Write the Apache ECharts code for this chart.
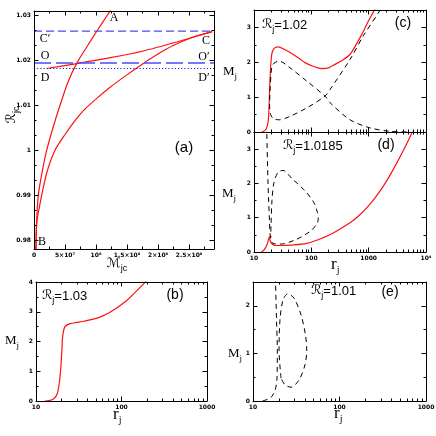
<!DOCTYPE html>
<html><head><meta charset="utf-8">
<script src="https://cdn.jsdelivr.net/npm/echarts@6.0.0/dist/echarts.min.js"></script>
<style>html,body{margin:0;padding:0;background:#fff;}#chart{width:436px;height:436px;}</style>
</head><body><div id="chart"></div>
<script>
// ===== Panel (a): R_jc versus M_jc =====
const aBA_M = [3.06e6, 4.0e6, 5.3e6, 6.9e6, 1.29e7, 2.05e7, 3.06e7, 4.19e7, 5.48e7, 6.94e7, 8.55e7, 1.011e8, 1.226e8, 1.306e8];
const aBA_R = [0.978, 0.983, 0.987, 0.99, 0.995, 1.0, 1.005, 1.01, 1.0152, 1.0195, 1.0231, 1.0265, 1.031, 1.0327];
const aBC_M = [3.06e6, 4.5e6, 8.9e6, 1.24e7, 2.1e7, 3.39e7, 5.0e7, 6.61e7, 8.23e7, 1.016e8, 1.226e8, 1.468e8, 1.726e8, 1.984e8, 2.242e8, 2.548e8, 2.871e8];
const aBC_R = [0.978, 0.984, 0.9875, 0.99, 0.9952, 1.0, 1.0035, 1.0066, 1.0092, 1.0116, 1.014, 1.0165, 1.019, 1.0213, 1.0233, 1.0251, 1.0264];
const aDC_M = [2.05e7, 6.9e7, 1.23e8, 1.76e8, 2.3e8, 2.87e8];
const aDC_R = [1.0182, 1.0193, 1.0206, 1.0221, 1.0241, 1.0264];
const aLevelSpan = [0, 2.9e8];
const levelC = [1.0265, 1.0265];
const levelO = [1.0194, 1.0194];
const levelD = [1.0182, 1.0182];

// ===== Panel (b): R_j = 1.03 =====
const bRed_r = [12.7, 15.9, 17.8, 19.1, 20.0, 20.5, 21.8, 25, 30, 36, 47, 56, 73.5, 115, 180, 200];
const bRed_M = [0, 0.06, 0.26, 0.82, 1.6, 2.16, 2.5, 2.6, 2.64, 2.68, 2.75, 2.82, 2.98, 3.38, 3.93, 4.08];

// ===== Panel (c): R_j = 1.02 =====
const cRed_r = [13.8, 16.2, 17.8, 19.0, 20.4, 22.5, 26.5, 33, 42.5, 60, 77.6, 110, 151, 200, 258, 350, 473, 600, 759, 1000, 1260, 1400];
const cRed_M = [0, 0.07, 0.35, 1.5, 2.23, 2.4, 2.44, 2.38, 2.28, 2.12, 1.99, 1.88, 1.82, 1.84, 1.94, 2.06, 2.23, 2.5, 2.8, 3.2, 3.5, 3.7];
const cDash_r = [1800, 1581, 807, 473, 212, 173, 83, 42.5, 27.6, 22, 19.5, 18.7, 19.2, 20, 21, 23.5, 27.6, 42.5, 83, 173, 212, 473, 1050, 2350, 5250];
const cDash_M = [3.75, 3.5, 2.76, 2.08, 1.22, 1.03, 0.69, 0.45, 0.35, 0.38, 0.5, 0.8, 1.3, 1.75, 1.92, 2.0, 2.03, 1.84, 1.46, 1.03, 0.84, 0.35, 0.12, 0.02, 0];

// ===== Panel (d): R_j = 1.0185 =====
const dRed_r = [13.5, 15, 16.9, 18.0, 18.5, 19.2, 20.6, 23.2, 30, 42.5, 83, 162, 250, 473, 689, 1000, 1350, 2000, 2630, 3940, 5500, 6000];
const dRed_M = [0, 0.06, 0.22, 0.38, 0.44, 0.32, 0.24, 0.19, 0.19, 0.2, 0.25, 0.42, 0.57, 0.85, 1.07, 1.35, 1.62, 2.04, 2.38, 2.93, 3.43, 3.6];
const dDash_r = [16.5, 16.7, 17.5, 18.6, 19.4, 21.4, 28.5, 52, 95, 125, 132, 128, 110, 78, 46, 32, 26.2, 22.3, 20.6, 19.8, 19.6];
const dDash_M = [3.7, 3.5, 2.09, 0.93, 0.41, 0.25, 0.23, 0.35, 0.6, 0.82, 0.97, 1.15, 1.45, 1.78, 2.14, 2.38, 2.32, 2.03, 1.51, 0.78, 0.41];

// ===== Panel (e): R_j = 1.01 =====
const eDash_r = [12.9, 14.9, 16.6, 18.0, 18.9, 19.1, 18.7, 18.2, 18.0];
const eDash_M = [0, 0.04, 0.1, 0.23, 0.44, 1.07, 1.7, 2.5, 2.7];
const eLoop_r = [21.1, 20.0, 20.5, 22.2, 25.2, 29.8, 35.9, 40.4, 41.8, 39.9, 34, 27.5, 23.4, 21.1];
const eLoop_M = [0.48, 1.07, 1.7, 2.12, 2.25, 2.16, 1.81, 1.39, 1.07, 0.76, 0.44, 0.29, 0.34, 0.48];

// ===== Tick values and labels =====
const aXTicks = [0, 5e7, 1e8, 1.5e8, 2e8, 2.5e8];
const aXTickLabels = ['0', '5×10⁷', '10⁸', '1.5×10⁸', '2×10⁸', '2.5×10⁸'];
const aXMinor = [2.5e7, 7.5e7, 1.25e8, 1.75e8, 2.25e8, 2.75e8];
const aYTicks = [0.98, 0.99, 1.0, 1.01, 1.02, 1.03];
const aYTickLabels = ['0.98', '0.99', '1', '1.01', '1.02', '1.03'];
const aYMinor = [0.98333, 0.98667, 0.99333, 0.99667, 1.00333, 1.00667, 1.01333, 1.01667, 1.02333, 1.02667];
const logTicks3 = [10, 100, 1000];
const logLabels3 = ['10', '100', '1000'];
const logTicks4 = [10, 100, 1000, 10000];
const logLabels4 = ['10', '100', '1000', '10⁴'];
const logMinor = [20,30,40,50,60,70,80,90,200,300,400,500,600,700,800,900,2000,3000,4000,5000,6000,7000,8000,9000];
const mTicksB = [0, 1, 2, 3, 4], mLabelsB = ['0', '1', '2', '3', '4'], mMinorB = [0.5, 1.5, 2.5, 3.5];
const mTicksCD = [0, 1, 2, 3], mLabelsCD = ['0', '1', '2', '3'], mMinorCD = [0.5, 1.5, 2.5];
const mTicksE = [0, 1, 2], mLabelsE = ['0', '1', '2'], mMinorE = [0.5, 1.5];

// ===== Build chart =====
const serif = '"Liberation Serif","DejaVu Serif",serif';
const sans = '"Liberation Sans","DejaVu Sans",sans-serif';
const grids = [
  {left: 34, top: 11, width: 180, height: 238},
  {left: 36, top: 282, width: 171, height: 119},
  {left: 254, top: 10, width: 172, height: 122},
  {left: 254, top: 132, width: 172, height: 120},
  {left: 253, top: 282, width: 173, height: 119}
].map(g => Object.assign({containLabel: false, outerBoundsMode: 'none', show: false}, g));

const xAxes = [], yAxes = [];
function addAxis(list, gi, pos, type, min, max, majors, minors, labels) {
  const base = {gridIndex: gi, type: type, min: min, max: max, position: pos, splitLine: {show: false},
    minorTick: {show: false}, minorSplitLine: {show: false}, axisPointer: {show: false}, silent: true, z: 10};
  if (type === 'log') base.logBase = 10;
  const idx = list.length;
  list.push(Object.assign({}, base, {
    axisLine: {show: true, onZero: false, lineStyle: {color: '#000', width: 1}},
    axisTick: {show: true, inside: true, length: 4.5, customValues: majors, lineStyle: {color: '#000', width: 1}},
    axisLabel: labels ? {show: true, customValues: majors, margin: 3, hideOverlap: false,
      fontSize: 6, fontWeight: 'bold', color: '#000', fontFamily: '"DejaVu Sans",sans-serif',
      formatter: function (v) {
        let k = 0, b = Infinity;
        majors.forEach((m, i) => { const d = Math.abs(m - v); if (d < b) { b = d; k = i; } });
        return labels[k];
      }} : {show: false}
  }));
  list.push(Object.assign({}, base, {
    axisLine: {show: false, onZero: false},
    axisTick: {show: true, inside: true, length: 2.5, customValues: minors, lineStyle: {color: '#000', width: 1}},
    axisLabel: {show: false}
  }));
  return idx;
}
function panel(gi, xType, xMin, xMax, xMaj, xMin2, xLab, yMin, yMax, yMaj, yMin2, yLab) {
  const xi = addAxis(xAxes, gi, 'bottom', xType, xMin, xMax, xMaj, xMin2, xLab);
  addAxis(xAxes, gi, 'top', xType, xMin, xMax, xMaj, xMin2, null);
  const yi = addAxis(yAxes, gi, 'left', 'value', yMin, yMax, yMaj, yMin2, yLab);
  addAxis(yAxes, gi, 'right', 'value', yMin, yMax, yMaj, yMin2, null);
  return [xi, yi];
}
const pA = panel(0, 'value', 0, 2.9e8, aXTicks, aXMinor, aXTickLabels, 0.978, 1.031, aYTicks, aYMinor, aYTickLabels);
const pB = panel(1, 'log', 10, 1000, logTicks3, logMinor, logLabels3, 0, 4, mTicksB, mMinorB, mLabelsB);
const pC = panel(2, 'log', 10, 10000, logTicks4, logMinor, null, 0, 3.5, mTicksCD, mMinorCD, mLabelsCD);
const pD = panel(3, 'log', 10, 10000, logTicks4, logMinor, logLabels4, 0, 3.5, mTicksCD, mMinorCD, mLabelsCD);
const pE = panel(4, 'log', 10, 1000, logTicks3, logMinor, logLabels3, 0, 2.5, mTicksE, mMinorE, mLabelsE);

const RED = '#ff1010', BLUE = '#4a4aff', BLUEDOT = '#1c1ccc', BLK = '#000';
function zip(a, b) { return a.map((v, i) => [v, b[i]]); }
function S(p, xs, ys, color, dash, w, smooth) {
  return {type: 'line', xAxisIndex: p[0], yAxisIndex: p[1], data: zip(xs, ys), showSymbol: false, symbol: 'none',
    smooth: smooth, clip: true, silent: true, z: 5, lineStyle: {color: color, width: w, type: dash}};
}
const series = [
  S(pA, aBA_M, aBA_R, RED, 'solid', 1.2, 0.25),
  S(pA, aBC_M, aBC_R, RED, 'solid', 1.2, 0.25),
  S(pA, aDC_M, aDC_R, RED, 'solid', 1.2, 0.25),
  S(pA, aLevelSpan, levelC, BLUE, [8, 4], 1.3, false),
  S(pA, aLevelSpan, levelO, BLUE, [17, 5], 1.5, false),
  S(pA, aLevelSpan, levelD, BLUEDOT, [1.2, 2], 1.2, false),
  S(pB, bRed_r, bRed_M, RED, 'solid', 1.2, 0.3),
  S(pC, cRed_r, cRed_M, RED, 'solid', 1.2, 0.3),
  S(pC, cDash_r, cDash_M, BLK, [5, 4], 1, 0.3),
  S(pD, dRed_r, dRed_M, RED, 'solid', 1.2, 0.3),
  S(pD, dDash_r, dDash_M, BLK, [5, 4], 1, 0.3),
  S(pE, eDash_r, eDash_M, BLK, [5, 4], 1, 0.3),
  S(pE, eLoop_r, eLoop_M, BLK, [5, 4], 1, 0.3)
];

function txt(x, y, text, size, fam) {
  return {type: 'text', x: x, y: y, silent: true, z: 100,
    style: {text: text, fill: '#000', font: size + 'px ' + fam, textAlign: 'center', textVerticalAlign: 'middle', align: 'center', verticalAlign: 'middle'}};
}
function rtxt(x, y, text, rich, align, rot) {
  return {type: 'text', x: x, y: y, rotation: rot || 0, silent: true, z: 100,
    style: {text: text, rich: rich, fill: '#000', textAlign: align || 'left', textVerticalAlign: 'middle', align: align || 'left', verticalAlign: 'middle'}};
}
const richR = {
  r: {fontSize: 13, fontFamily: '"DejaVu Sans"', lineHeight: 18, verticalAlign: 'middle'},
  s: {fontSize: 9, fontFamily: sans, lineHeight: 18, verticalAlign: 'bottom'},
  t: {fontSize: 13, fontFamily: sans, lineHeight: 18, verticalAlign: 'middle'}
};
const richM = {
  m: {fontSize: 13, fontFamily: serif, lineHeight: 18, verticalAlign: 'middle'},
  s: {fontSize: 9, fontFamily: serif, lineHeight: 18, verticalAlign: 'bottom'}
};
const richRJ = {
  m: {fontSize: 17, fontFamily: serif, lineHeight: 20, verticalAlign: 'middle'},
  s: {fontSize: 10, fontFamily: serif, lineHeight: 20, verticalAlign: 'bottom'}
};
const graphics = [
  rtxt(12, 115, '{r|ℛ}{s|jc}', richR, 'center', Math.PI / 2),
  rtxt(117, 264, '{r|ℳ}{s|jc}', richR, 'center'),
  txt(114, 18, 'A', 12, serif),
  txt(45, 39, 'C′', 12, serif),
  txt(45, 56, 'O', 12, serif),
  txt(45, 78, 'D', 12, serif),
  txt(206, 41, 'C', 12, serif),
  txt(204, 57, 'O′', 12, serif),
  txt(204, 78, 'D′', 12, serif),
  txt(42, 242, 'B', 12, serif),
  txt(184, 148, '(a)', 15, sans),
  txt(175, 295, '(b)', 14, sans),
  txt(403, 23, '(c)', 14, sans),
  txt(386, 145, '(d)', 14, sans),
  txt(390, 292, '(e)', 14, sans),
  rtxt(42, 296, '{r|ℛ}{s|j}{t|=1.03}', richR),
  rtxt(262, 25, '{r|ℛ}{s|j}{t|=1.02}', richR),
  rtxt(283, 146, '{r|ℛ}{s|j}{t|=1.0185}', richR),
  rtxt(311, 291, '{r|ℛ}{s|j}{t|=1.01}', richR),
  rtxt(5, 341, '{m|M}{s|j}', richM),
  rtxt(223, 72, '{m|M}{s|j}', richM),
  rtxt(222, 194, '{m|M}{s|j}', richM),
  rtxt(228, 354, '{m|M}{s|j}', richM),
  rtxt(113, 415, '{m|r}{s|j}', richRJ),
  rtxt(331, 265, '{m|r}{s|j}', richRJ),
  rtxt(334, 414, '{m|r}{s|j}', richRJ)
];

const chart = echarts.init(document.getElementById('chart'), null, {renderer: 'canvas'});
chart.setOption({
  animation: false,
  backgroundColor: '#fff',
  grid: grids,
  xAxis: xAxes,
  yAxis: yAxes,
  series: series,
  graphic: graphics
});
</script></body></html>
